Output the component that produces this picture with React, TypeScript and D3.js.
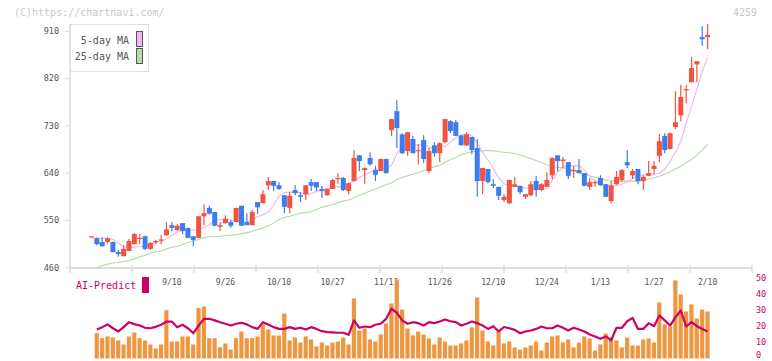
import React from "react";
import * as d3 from "d3";

// x-axis labels (placed on the candle index they belong to)
const tickLabels = ["9/10", "9/26", "10/10", "10/27", "11/11", "11/26", "12/10", "12/24", "1/13", "1/27", "2/10"];
const tickIndex = [15, 25, 35, 45, 55, 65, 75, 85, 95, 105, 115];

const priceTicks = [460, 550, 640, 730, 820, 910];
const aiTicks = [0, 10, 20, 30, 40, 50];

// daily candles
const open = [
  519, 516, 509, 509, 509, 490, 482, 492, 505, 516,
  520, 496, 509, 512, 522, 541, 532, 545, 536, 520,
  517, 558, 574, 566, 538, 545, 547, 547, 578, 547,
  541, 585, 583, 617, 625, 617, 598, 574, 608, 598,
  600, 623, 623, 610, 598, 610, 630, 631, 606, 625,
  674, 646, 669, 646, 644, 667, 722, 758, 714, 682,
  705, 683, 703, 644, 693, 678, 699, 739, 737, 712,
  693, 709, 688, 625, 648, 619, 614, 589, 583, 614,
  616, 595, 598, 625, 608, 614, 636, 674, 663, 661,
  645, 646, 640, 614, 622, 631, 619, 587, 619, 627,
  661, 636, 648, 625, 635, 648, 673, 711, 686, 728,
  750, 799, 813, 847, 899, 899,
];
const high = [
  520, 518, 518, 518, 510, 494, 503, 515, 526, 524,
  521, 509, 513, 522, 547, 547, 543, 545, 536, 520,
  558, 581, 578, 566, 547, 560, 551, 574, 578, 564,
  570, 585, 608, 633, 625, 623, 598, 604, 617, 604,
  617, 629, 623, 616, 610, 629, 640, 633, 623, 684,
  674, 651, 680, 654, 668, 668, 743, 779, 716, 718,
  711, 695, 712, 688, 699, 699, 743, 741, 741, 712,
  718, 709, 705, 650, 648, 629, 614, 600, 628, 633,
  616, 600, 625, 635, 621, 642, 670, 674, 671, 661,
  654, 667, 640, 631, 625, 636, 619, 625, 644, 648,
  684, 648, 648, 636, 663, 663, 714, 716, 717, 796,
  808, 808, 861, 853, 920, 924,
];
const low = [
  519, 503, 500, 506, 489, 481, 482, 492, 505, 505,
  494, 494, 505, 505, 521, 530, 530, 524, 516, 501,
  516, 541, 561, 539, 530, 544, 536, 547, 540, 541,
  541, 562, 583, 608, 606, 608, 564, 564, 598, 585,
  589, 606, 606, 593, 598, 610, 620, 606, 600, 624,
  644, 620, 654, 625, 644, 640, 711, 688, 677, 673,
  678, 657, 659, 640, 671, 661, 697, 716, 711, 693,
  692, 676, 595, 600, 621, 612, 589, 585, 581, 614,
  600, 591, 596, 595, 606, 614, 629, 644, 650, 629,
  631, 640, 615, 608, 614, 616, 595, 583, 618, 623,
  650, 629, 619, 608, 634, 638, 661, 678, 685, 724,
  739, 773, 813, 813, 882, 876,
];
const close = [
  520, 505, 501, 516, 490, 486, 496, 511, 524, 517,
  496, 507, 511, 514, 533, 536, 540, 530, 517, 513,
  558, 564, 563, 540, 541, 553, 540, 574, 540, 541,
  566, 575, 600, 625, 616, 610, 576, 597, 602, 595,
  617, 616, 613, 606, 610, 627, 631, 608, 621, 669,
  663, 650, 657, 637, 667, 640, 743, 726, 678, 718,
  678, 684, 667, 682, 678, 697, 743, 720, 711, 693,
  714, 684, 625, 650, 623, 616, 597, 595, 627, 619,
  604, 600, 619, 608, 619, 627, 669, 663, 666, 635,
  646, 640, 616, 623, 623, 617, 595, 617, 633, 646,
  655, 644, 625, 633, 640, 654, 701, 684, 716, 737,
  785, 800, 840, 853, 895, 903,
];

// moving averages as drawn
const ma5 = [
  516, 516, 516, 516, 514, 507, 500, 499, 499, 500,
  502, 505, 508, 510, 515, 522, 528, 531, 532, 532,
  532, 536, 542, 550, 552, 553, 551, 548, 547, 547,
  552, 557, 561, 566, 579, 596, 603, 604, 604, 603,
  598, 601, 605, 608, 611, 613, 614, 614, 619, 626,
  632, 637, 642, 647, 648, 650, 655, 677, 692, 696,
  695, 693, 697, 689, 689, 693, 690, 699, 707, 712,
  715, 712, 697, 680, 665, 649, 631, 620, 616, 615,
  614, 612, 611, 610, 609, 611, 626, 642, 651, 654,
  654, 654, 646, 634, 626, 621, 618, 615, 616, 619,
  623, 630, 635, 637, 638, 638, 640, 648, 662, 680,
  700, 735, 768, 800, 833, 860,
];
const ma25 = [
  null, 461, 464, 467, 469, 470, 472, 474, 477, 481,
  484, 488, 490, 492, 496, 499, 501, 504, 508, 511,
  514, 517, 519, 519, 520, 521, 522, 523, 525, 527,
  529, 533, 536, 540, 545, 552, 556, 558, 561, 564,
  565, 567, 571, 575, 578, 580, 584, 587, 589, 593,
  598, 602, 606, 610, 614, 618, 622, 628, 632, 635,
  638, 641, 645, 649, 652, 655, 661, 666, 670, 675,
  678, 681, 682, 683, 683, 683, 681, 680, 679, 677,
  675, 671, 668, 664, 660, 656, 653, 651, 650, 649,
  646, 641, 638, 635, 632, 630, 627, 626, 625, 625,
  625, 625, 625, 627, 629, 631, 634, 638, 643, 648,
  653, 660, 666, 674, 684, 695,
];

// lower panel
const volume = [
  null, 15.8, 12.7, 13.8, 13.1, 11.3, 8.8, 13.8, 16.3, 12.7,
  11.3, 8.8, 6.3, 8.8, 30.2, 10.6, 10.6, 13.8, 13.8, 8.8,
  31.5, 32.5, 12.7, 12.7, 7.1, 9.4, 5.6, 12.7, 16.9, 12.7,
  12.7, 13.8, 21.3, 18.1, 14.4, 14.4, 28.1, 11.3, 13.1, 10.0,
  13.8, 11.9, 7.5, 10.0, 8.1, 10.0, 10.6, 13.1, 8.8, 37.5,
  17.5, 18.8, 11.9, 10.6, 15.0, 21.9, 34.4, 49.4, 30.6, 18.8,
  14.4, 16.9, 15.0, 12.5, 8.8, 13.1, 10.6, 8.1, 8.1, 9.4,
  11.3, 19.4, 38.1, 17.5, 10.6, 8.1, 16.9, 9.4, 10.6, 6.9,
  5.6, 6.9, 8.1, 10.6, 5.0, 10.0, 13.8, 14.4, 10.0, 11.9,
  6.9, 10.0, 13.8, 12.5, 5.0, 8.8, 15.6, 13.1, 11.3, 6.9,
  13.1, 8.1, 8.1, 11.9, 12.5, 10.0, 35.0, 21.3, 20.0, 48.8,
  40.0, 29.4, 33.8, 25.0, 30.6, 29.4,
];
const aiPredict = [
  null, 18.1, 19.6, 21.3, 18.9, 16.9, 19.6, 22.7, 21.5, 20.6,
  19.2, 18.9, 19.8, 21.1, 23.1, 23.1, 19.6, 21.1, 18.9, 15.8,
  20.6, 24.8, 24.8, 23.8, 22.7, 21.7, 20.6, 21.7, 22.3, 21.3,
  19.6, 18.5, 22.7, 21.3, 19.6, 18.5, 18.5, 19.6, 18.5, 19.2,
  18.1, 19.6, 18.5, 17.1, 16.5, 16.3, 16.1, 16.1, 14.8, 23.8,
  19.2, 20.0, 19.6, 21.1, 21.7, 24.8, 31.1, 28.5, 23.8, 21.7,
  22.7, 22.1, 20.6, 22.7, 22.1, 23.1, 24.4, 23.3, 22.7, 20.6,
  21.7, 23.1, 22.1, 20.6, 18.5, 20.2, 16.9, 19.7, 18.9, 17.9,
  15.8, 16.9, 17.5, 18.5, 20.0, 18.9, 18.9, 20.6, 19.2, 17.5,
  19.2, 18.1, 16.9, 15.0, 13.8, 12.3, 13.8, 11.3, 19.2, 19.2,
  23.3, 25.4, 18.5, 18.5, 22.1, 20.2, 26.9, 23.8, 20.6, 25.8,
  30.0, 20.0, 22.7, 20.2, 18.5, 16.9,
];

const W = 772;
const H = 361;
const UP = "#f2533f";
const DOWN = "#3d7cec";
const GRID = "#dedede";
const MONO = "'DejaVu Sans Mono', monospace";

export default function App() {
  const idx = d3.range(open.length);

  const x = d3.scaleLinear().domain([0, open.length - 1]).range([91.5, 707.6]);
  const y = d3.scaleLinear().domain([460, 910]).range([267.8, 31.3]);
  const yv = d3.scaleLinear().domain([0, 50]).range([358.5, 278.5]);
  // evenly spaced axis ticks along the bottom
  const gx = d3.scaleLinear().domain([0, 11]).range([70, 752]);

  const maLine = (arr) =>
    d3
      .line()
      .defined((d) => arr[d] != null)
      .x((d) => x(d))
      .y((d) => y(arr[d]))(idx);

  const aiLine = d3
    .line()
    .defined((d) => aiPredict[d] != null)
    .x((d) => x(d))
    .y((d) => yv(aiPredict[d]))(idx);

  const cw = 5;

  return (
    <svg
      width={W}
      height={H}
      style={{ position: "absolute", left: 0, top: 0, background: "#fff" }}
      fontFamily={MONO}
    >
      <text x={14} y={16} fontSize={10} fill="#c8c8c8">
        (C)https://chartnavi.com/
      </text>
      <text x={757} y={16} fontSize={10} fill="#c8c8c8" textAnchor="end">
        4259
      </text>

      {/* price axis */}
      <line x1={70} x2={70} y1={24} y2={268} stroke={GRID} strokeWidth={1.5} />
      <line x1={70} x2={752} y1={268} y2={268} stroke={GRID} strokeWidth={2} />
      {priceTicks.map((t) => (
        <g key={t}>
          <line x1={65} x2={70} y1={y(t)} y2={y(t)} stroke={GRID} strokeWidth={1} />
          <text x={59} y={y(t)} dy="0.33em" fontSize={8.5} fill="#555" textAnchor="end">
            {t}
          </text>
        </g>
      ))}
      {d3.range(12).map((k) => (
        <line key={k} x1={gx(k)} x2={gx(k)} y1={265} y2={273} stroke={GRID} strokeWidth={1.5} />
      ))}

      {/* moving averages */}
      <path d={maLine(ma25)} fill="none" stroke="#b3dba3" strokeWidth={1.1} />
      <path d={maLine(ma5)} fill="none" stroke="#ebb3ef" strokeWidth={1.1} />

      {/* candles */}
      {idx.map((i) => {
        const up = close[i] >= open[i];
        const col = up ? UP : DOWN;
        const top = y(Math.max(open[i], close[i]));
        const bot = y(Math.min(open[i], close[i]));
        return (
          <g key={i}>
            <line x1={x(i)} x2={x(i)} y1={y(high[i])} y2={y(low[i])} stroke={col} strokeWidth={1.2} />
            <rect x={x(i) - cw / 2} y={top} width={cw} height={Math.max(bot - top, 1.2)} fill={col} />
          </g>
        );
      })}

      {/* legend */}
      <rect x={70.5} y={24.5} width={78} height={47} fill="#fff" stroke={GRID} />
      <text x={129} y={41} dy="0.33em" fontSize={10} fill="#555" textAnchor="end">
        5-day MA
      </text>
      <text x={129} y={57} dy="0.33em" fontSize={10} fill="#555" textAnchor="end">
        25-day MA
      </text>
      <rect x={136.5} y={31.5} width={6} height={15} fill="#f0b8ee" stroke="#555" />
      <rect x={136.5} y={48.5} width={6} height={15} fill="#b9dcaa" stroke="#555" />

      {/* lower panel */}
      {tickIndex.map((ti, k) => (
        <text key={ti} x={x(ti)} y={282} dy="0.33em" fontSize={8} fill="#555" textAnchor="middle">
          {tickLabels[k]}
        </text>
      ))}
      <text x={76} y={286} dy="0.33em" fontSize={10} fill="#cc0066">
        AI-Predict
      </text>
      <rect x={142} y={277} width={7} height={16} fill="#cc0066" />

      {idx.map((i) =>
        volume[i] == null ? null : (
          <rect
            key={i}
            x={x(i) - 2.2}
            y={yv(volume[i])}
            width={4.2}
            height={yv(0) - yv(volume[i])}
            fill="#f19640"
          />
        )
      )}
      <path d={aiLine} fill="none" stroke="#cc0066" strokeWidth={2.2} strokeLinejoin="round" />

      {aiTicks.map((t) => (
        <text key={t} x={756} y={Math.min(yv(t), 355.5)} dy="0.33em" fontSize={8.5} fill="#cc0066">
          {t}
        </text>
      ))}
    </svg>
  );
}
